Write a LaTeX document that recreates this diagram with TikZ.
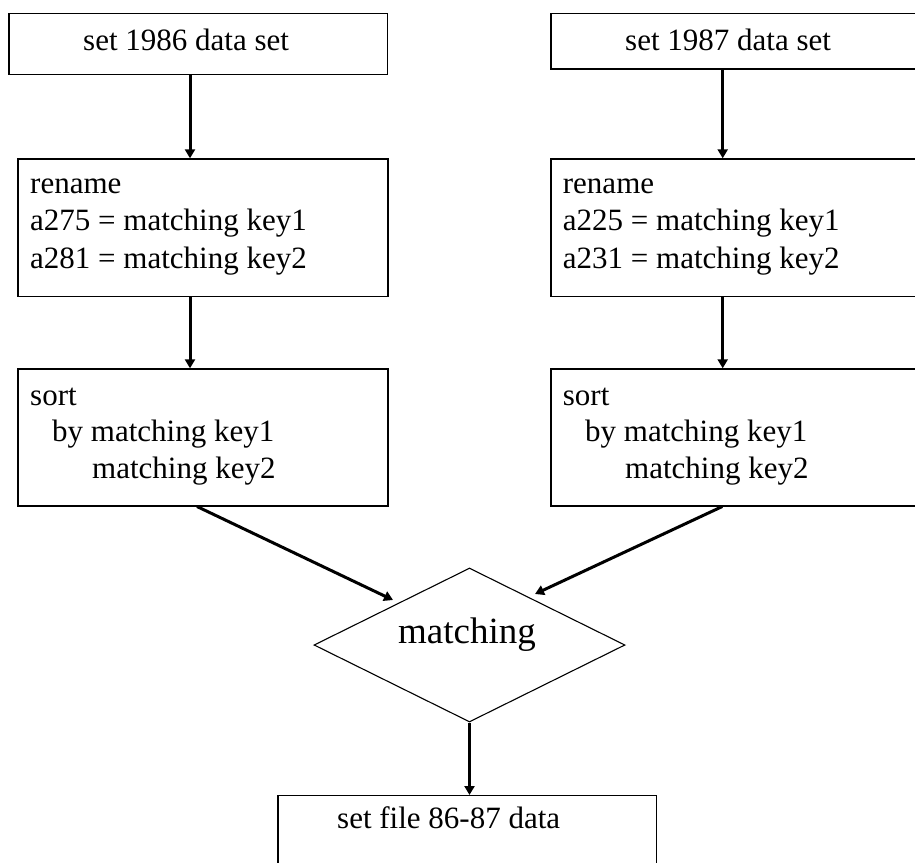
\documentclass[tikz,border=0pt]{standalone}
\usepackage{fontspec}
\setmainfont{Liberation Serif}
\usetikzlibrary{arrows.meta,shapes.geometric}
\tikzset{
  boxnode/.style={draw, line width=1.2pt, rectangle, inner sep=0pt, anchor=north west},
  txt/.style={anchor=base west, inner sep=0pt, font=\fontsize{31}{37}\selectfont},
  bigtxt/.style={anchor=base, inner sep=0pt, font=\fontsize{37}{44}\selectfont},
  diam/.style={draw, line width=1.1pt, diamond, inner sep=0pt, minimum width=311pt, minimum height=154pt},
  arr/.style={line width=3pt, -{Triangle[length=9pt,width=10pt]}},
}
\begin{document}
\begin{tikzpicture}[x=1pt,y=-1pt]
\useasboundingbox (0,0) rectangle (915,862);
\clip (0,0) rectangle (915,862);
% boxes
\node[boxnode, minimum width=378.7pt, minimum height=61pt] (b1) at (8.3,12.7) {};
\node[boxnode, minimum width=378.7pt, minimum height=55.6pt] (b2) at (550.3,12.7) {};
\node[boxnode, minimum width=370pt, minimum height=137.4pt] (r1) at (17.3,158.3) {};
\node[boxnode, minimum width=370pt, minimum height=137.4pt] (r2) at (550.3,158.3) {};
\node[boxnode, minimum width=370pt, minimum height=137pt] (s1) at (17.3,368.3) {};
\node[boxnode, minimum width=370pt, minimum height=137pt] (s2) at (550.3,368.3) {};
\node[diam] (d) at (469.5,645) {};
\node[boxnode, minimum width=378.7pt, minimum height=100pt] (f) at (277.3,795) {};
% texts
\node[txt] (t1) at (83,50) {set 1986 data set};
\node[txt] (t2) at (625,50) {set 1987 data set};
\node[txt] (r1a) at (30,193) {rename};
\node[txt] (r1b) at (30,230.5) {a275 = matching key1};
\node[txt] (r1c) at (30,268) {a281 = matching key2};
\node[txt] (r2a) at (562.7,193) {rename};
\node[txt] (r2b) at (562.7,230.5) {a225 = matching key1};
\node[txt] (r2c) at (562.7,268) {a231 = matching key2};
\node[txt] (s1a) at (30,405) {sort};
\node[txt] (s1b) at (52,441.5) {by matching key1};
\node[txt] (s1c) at (92,478) {matching key2};
\node[txt] (s2a) at (562.7,405) {sort};
\node[txt] (s2b) at (585,441.5) {by matching key1};
\node[txt] (s2c) at (625,478) {matching key2};
\node[bigtxt] (dt) at (467,643) {matching};
\node[txt] (ft) at (337,828) {set file 86-87 data};
% connector coordinates
\coordinate (lx) at (190,0);
\coordinate (rx) at (722.7,0);
\coordinate (ls) at (197,0);
\coordinate (rs) at (722.3,0);
\coordinate (tipL) at (393,600);
\coordinate (tipR) at (535,594);
% connectors
\draw[arr] (b1.south -| lx) -- (r1.north -| lx);
\draw[arr] (r1.south -| lx) -- (s1.north -| lx);
\draw[arr] (b2.south -| rx) -- (r2.north -| rx);
\draw[arr] (r2.south -| rx) -- (s2.north -| rx);
\draw[arr] (s1.south -| ls) -- (tipL);
\draw[arr] (s2.south -| rs) -- (tipR);
\draw[arr] (d.south) -- (d.south |- f.north);
\end{tikzpicture}
\end{document}
